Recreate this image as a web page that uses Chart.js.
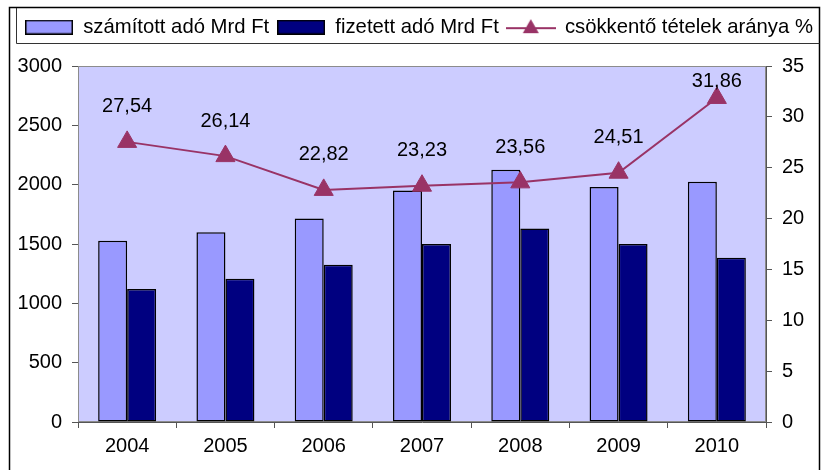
<!DOCTYPE html>
<html>
<head>
<meta charset="utf-8">
<script src="https://cdn.jsdelivr.net/npm/chart.js@4"></script>
<style>
  html,body{margin:0;padding:0;background:#fff;}
  #wrap{position:relative;width:822px;height:470px;}
</style>
</head>
<body>
<div id="wrap"><canvas id="c" width="822" height="470"></canvas></div>
<script>
const years = ['2004','2005','2006','2007','2008','2009','2010'];
const szamitott = [1528, 1600, 1715, 1950, 2125, 1980, 2025];
const fizetett = [1120, 1208, 1325, 1500, 1630, 1500, 1385];
const csokkento = [27.54, 26.14, 22.82, 23.23, 23.56, 24.51, 31.86];
const seriesNames = ['számított adó Mrd Ft', 'fizetett adó Mrd Ft', 'csökkentő tételek aránya %'];
const leftTicks = [0, 500, 1000, 1500, 2000, 2500, 3000];
const rightTicks = [0, 5, 10, 15, 20, 25, 30, 35];

const FONT = 'Liberation Sans, Arial, sans-serif';
const LIGHT = '#9999FF', DARK = '#000080', LINEC = '#993366', PLOTBG = '#CCCCFF';

function swatch(fill) {
  const c = document.createElement('canvas');
  c.width = 48; c.height = 15;
  const x = c.getContext('2d');
  x.fillStyle = fill; x.fillRect(0, 0, 48, 15);
  x.strokeStyle = '#000'; x.lineWidth = 1.5; x.strokeRect(0.75, 0.75, 46.5, 13.5);
  return c;
}
function lineSwatch() {
  const c = document.createElement('canvas');
  c.width = 50; c.height = 18;
  const x = c.getContext('2d');
  x.strokeStyle = LINEC; x.lineWidth = 2;
  x.beginPath(); x.moveTo(0, 10); x.lineTo(50, 10); x.stroke();
  x.fillStyle = LINEC;
  x.beginPath(); x.moveTo(25, 1); x.lineTo(33, 15); x.lineTo(17, 15); x.closePath(); x.fill();
  return c;
}
const legendImgs = [swatch(LIGHT), swatch(DARK), lineSwatch()];

const plotDeco = {
  id: 'plotDeco',
  beforeDatasetsDraw(chart) {
    const {ctx, chartArea: a} = chart;
    ctx.save();
    ctx.fillStyle = PLOTBG;
    ctx.fillRect(a.left, a.top, a.right - a.left, a.bottom - a.top);
    ctx.strokeStyle = '#8c8c8c'; ctx.lineWidth = 1;
    ctx.strokeRect(a.left + 0.5, a.top + 0.5, a.right - a.left - 1, a.bottom - a.top - 1);
    ctx.restore();
  },
  afterDatasetsDraw(chart) {
    const {ctx, chartArea: a} = chart;
    const meta = chart.getDatasetMeta(2);
    ctx.save();
    ctx.fillStyle = '#000';
    ctx.font = '20px ' + FONT;
    ctx.textAlign = 'center'; ctx.textBaseline = 'middle';
    meta.data.forEach((pt, i) => {
      const y = Math.max(pt.y - 35, a.top + 15);
      ctx.fillText(csokkento[i].toFixed(2).replace('.', ','), pt.x, y);
    });
    ctx.restore();
  },
  afterDraw(chart) {
    const {ctx} = chart;
    ctx.save();
    ctx.strokeStyle = '#000';
    ctx.lineWidth = 1.5;
    ctx.beginPath();
    ctx.moveTo(9.5, 470); ctx.lineTo(9.5, 7.5); ctx.lineTo(819.5, 7.5); ctx.lineTo(819.5, 470);
    ctx.stroke();
    ctx.lineWidth = 1;
    ctx.strokeStyle = '#333';
    ctx.beginPath();
    ctx.moveTo(16.5, 8); ctx.lineTo(16.5, 43.5); ctx.lineTo(819.5, 43.5);
    ctx.stroke();
    ctx.restore();
  }
};

const chart = new Chart(document.getElementById('c'), {
  data: {
    labels: years,
    datasets: [
      { type: 'bar', label: seriesNames[0], data: szamitott, yAxisID: 'y',
        backgroundColor: LIGHT, borderColor: '#000', borderWidth: 1.5, borderSkipped: false, order: 2 },
      { type: 'bar', label: seriesNames[1], data: fizetett, yAxisID: 'y',
        backgroundColor: DARK, borderColor: '#000', borderWidth: 1.5, borderSkipped: false, order: 2 },
      { type: 'line', label: seriesNames[2], data: csokkento, yAxisID: 'y1',
        borderColor: LINEC, borderWidth: 2, tension: 0,
        pointStyle: 'triangle', pointRadius: 11, pointBackgroundColor: LINEC, pointBorderColor: LINEC,
        pointBorderWidth: 1, order: 0 }
    ]
  },
  options: {
    responsive: false,
    animation: false,
    layout: { padding: { top: 9, left: 16, right: 0, bottom: 0 } },
    datasets: { bar: { categoryPercentage: 0.59, barPercentage: 1.0 } },
    plugins: {
      tooltip: { enabled: false },
      legend: {
        position: 'top',
        labels: {
          usePointStyle: true,
          pointStyleWidth: 48,
          boxHeight: 18,
          padding: 8,
          color: '#000',
          font: { family: FONT, size: 20.3 },
          generateLabels: () => seriesNames.map((t, i) => ({
            text: t, pointStyle: legendImgs[i], datasetIndex: i, hidden: false,
            fillStyle: 'transparent', strokeStyle: 'transparent', lineWidth: 0, fontColor: '#000'
          }))
        }
      }
    },
    scales: {
      x: {
        offset: true,
        grid: { display: true, offset: true, drawOnChartArea: false, drawTicks: true, tickLength: 6, color: '#555' },
        border: { display: true, color: '#555', width: 1 },
        ticks: { color: '#000', font: { family: FONT, size: 20 }, padding: 6, maxRotation: 0 },
        afterFit(s) { s.height = 48; }
      },
      y: {
        position: 'left', min: 0, max: 3000,
        afterBuildTicks(s) { s.ticks = leftTicks.map(v => ({ value: v })); },
        grid: { display: true, drawOnChartArea: false, drawTicks: true, tickLength: 6, color: '#555' },
        border: { display: true, color: '#555', width: 1 },
        ticks: { color: '#000', font: { family: FONT, size: 20 }, padding: 10, callback: v => String(v) },
        afterFit(s) { s.width = 62; }
      },
      y1: {
        position: 'right', min: 0, max: 35,
        afterBuildTicks(s) { s.ticks = rightTicks.map(v => ({ value: v })); },
        grid: { display: true, drawOnChartArea: false, drawTicks: true, tickLength: 6, color: '#555' },
        border: { display: true, color: '#555', width: 1 },
        ticks: { color: '#000', font: { family: FONT, size: 20 }, padding: 10, callback: v => String(v) },
        afterFit(s) { s.width = 56; }
      }
    }
  },
  plugins: [plotDeco]
});

const origFit = chart.legend.fit;
chart.legend.fit = function () { this.maxWidth = 822; origFit.call(this); this.height = 57; };
chart.update('none');
</script>
</body>
</html>
